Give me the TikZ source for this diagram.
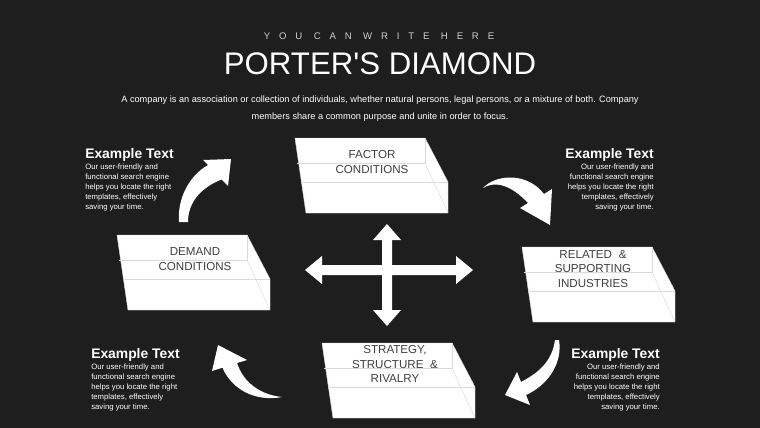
\documentclass[tikz,border=0pt]{standalone}
\usepackage{fontspec}
\setmainfont{Liberation Sans}
\newfontfamily\plainsans{Liberation Sans}
\definecolor{bg}{HTML}{1E1E1E}
\definecolor{boxtxt}{HTML}{404040}
\definecolor{faint}{HTML}{DADADA}
\definecolor{subtxt}{HTML}{D0D0D0}
\tikzset{
  slabline/.style={draw=faint, line width=0.35pt},
  boxlabel/.style={text=boxtxt, align=center, inner sep=0pt, font=\fontsize{8.7}{10.9}\selectfont},
  bigarrow/.style={fill=white, draw=none},
  exhead/.style={text=white, inner sep=0pt, font=\bfseries\fontsize{10.4}{12}\selectfont},
  exbody/.style={text=white, inner sep=0pt, font=\fontsize{5.8}{7.4}\selectfont},
  desctext/.style={text=white, inner sep=0pt, font=\fontsize{6.9}{9}\selectfont},
}
\newcommand\slabshape[2]{%
 \begin{scope}[shift={(#1,#2)}]
  \fill[white] (0,0) -- (130,0) -- (153,44) -- (153,75) -- (11,75) -- cycle;
  \draw[slabline] (2,25) -- (130,25) -- (130,0);
  \draw[slabline] (130,25) -- (153,75);
  \draw[slabline] (6,44) -- (153,44);
  \draw[slabline] (0,0) -- (130,0) -- (153,44) -- (153,75) -- (11,75) -- cycle;
 \end{scope}}
\begin{document}
\begin{tikzpicture}[x=0.75pt,y=-0.75pt]
\fill[bg] (0,0) rectangle (760,428);
\useasboundingbox (0,0) rectangle (760,428);

% titles
\node[text=subtxt, inner sep=0pt, font=\fontsize{7.2}{8}\selectfont\addfontfeature{LetterSpace=92}] (kicker) at (379,36) {YOU CAN WRITE HERE};
\node[text=white, inner sep=0pt, font=\plainsans\fontsize{23.4}{28}\selectfont] (title) at (380,64) {PORTER'S DIAMOND};
\node[desctext] (desc1) at (380,100) {A company is an association or collection of individuals, whether natural persons, legal persons, or a mixture of both. Company};
\node[desctext] (desc2) at (380,117) {members share a common purpose and unite in order to focus.};

% slabs
\slabshape{295}{138}
\slabshape{117}{235}
\slabshape{522}{247}
\slabshape{322}{343}
\node[boxlabel] (factor) at (372,162) {FACTOR\\CONDITIONS};
\node[boxlabel] (demand) at (195,259) {DEMAND\\CONDITIONS};
\node[boxlabel] (related) at (593,269) {RELATED\hspace{0.3em} \&\\SUPPORTING\\INDUSTRIES};
\node[boxlabel] (strategy) at (395,364) {STRATEGY,\\STRUCTURE\hspace{0.3em} \&\\RIVALRY};

% central cross
\fill[bigarrow] (387,224) -- (401,240) -- (392,240) -- (392,265) -- (456,265) -- (456,256) -- (473,270)
  -- (456,284) -- (456,275) -- (392,275) -- (392,310) -- (401,310) -- (387,326) -- (373,310)
  -- (382,310) -- (382,275) -- (322,275) -- (322,284) -- (305,270) -- (322,256) -- (322,265)
  -- (382,265) -- (382,240) -- (373,240) -- cycle;

% curved arrows
\fill[bigarrow] (188,222) .. controls (188,203) and (200,188) .. (221.5,179.5) -- (228,186) -- (231,159)
  -- (203,160) -- (208,165) .. controls (190,175) and (177,198) .. (179,222) -- cycle;
\fill[bigarrow] (483,188) .. controls (496,174) and (527,172) .. (544,194) -- (552,189) -- (550,225)
  -- (520,208) -- (528,203) .. controls (512,186) and (496,180) .. (483,188) -- cycle;
\fill[bigarrow] (555,340) -- (559,340) .. controls (563,365) and (546,386) .. (526,395) -- (530,405)
  -- (505,395) -- (517,372) -- (521,382) .. controls (538,373) and (552,362) .. (555,340) -- cycle;
\fill[bigarrow] (222.5,367.7) -- (212,371) -- (218,345) -- (247,360) -- (237,363)
  .. controls (244,384) and (262,395) .. (282,397) .. controls (256,402) and (232,390) .. (222.5,367.7) -- cycle;

% example texts
\node[exhead, anchor=west] (h1) at (85,155) {Example Text};
\node[exbody, anchor=north west, align=left] (b1) at (85,164) {Our user-friendly and\\functional search engine\\helps you locate the right\\templates, effectively\\saving your time.};
\node[exhead, anchor=east] (h2) at (654,155) {Example Text};
\node[exbody, anchor=north east, align=right] (b2) at (654,164) {Our user-friendly and\\functional search engine\\helps you locate the right\\templates, effectively\\saving your time.};
\node[exhead, anchor=west] (h3) at (91,355) {Example Text};
\node[exbody, anchor=north west, align=left] (b3) at (91,364) {Our user-friendly and\\functional search engine\\helps you locate the right\\templates, effectively\\saving your time.};
\node[exhead, anchor=east] (h4) at (660,355) {Example Text};
\node[exbody, anchor=north east, align=right] (b4) at (660,364) {Our user-friendly and\\functional search engine\\helps you locate the right\\templates, effectively\\saving your time.};
\end{tikzpicture}
\end{document}
